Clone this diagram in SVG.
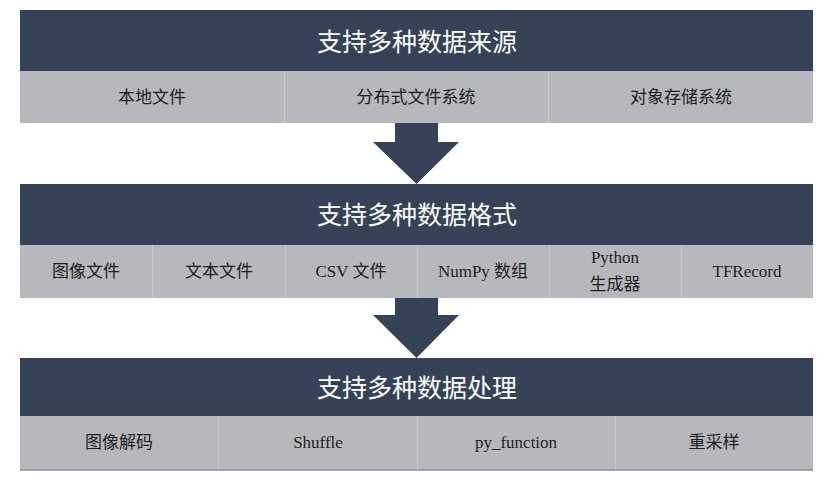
<svg xmlns="http://www.w3.org/2000/svg" width="840" height="480" viewBox="0 0 840 480">
<style>
.hdr{fill:#364257}
.row{fill:#b6b8bd}
.div{stroke:#c8cacd;stroke-width:1}
.title{font-family:"Noto Sans CJK SC","Noto Sans",sans-serif;font-size:25px;fill:#ffffff;text-anchor:middle;dominant-baseline:central}
.lbl{font-family:"Liberation Serif","Noto Sans CJK SC",serif;font-size:17px;fill:#1e1e1e;text-anchor:middle;dominant-baseline:central}
.arrow{fill:#364257}
</style>
<rect width="840" height="480" fill="#ffffff"/>
<g id="block1">
<rect class="hdr" x="20" y="10" width="793" height="61"/>
<text class="title" x="417" y="40">支持多种数据来源</text>
<rect class="row" x="20" y="71" width="793" height="52"/>
<line class="div" x1="284.5" y1="71" x2="284.5" y2="123"/>
<line class="div" x1="548.5" y1="71" x2="548.5" y2="123"/>
<text class="lbl" x="152" y="97">本地文件</text>
<text class="lbl" x="416" y="97">分布式文件系统</text>
<text class="lbl" x="681" y="97">对象存储系统</text>
</g>
<g id="block2">
<rect class="hdr" x="20" y="184" width="793" height="61"/>
<text class="title" x="417" y="213">支持多种数据格式</text>
<rect class="row" x="20" y="245" width="793" height="53"/>
<line class="div" x1="152.5" y1="245" x2="152.5" y2="298"/>
<line class="div" x1="285.5" y1="245" x2="285.5" y2="298"/>
<line class="div" x1="417.5" y1="245" x2="417.5" y2="298"/>
<line class="div" x1="549.5" y1="245" x2="549.5" y2="298"/>
<line class="div" x1="681.5" y1="245" x2="681.5" y2="298"/>
<text class="lbl" x="86" y="271">图像文件</text>
<text class="lbl" x="219" y="271">文本文件</text>
<text class="lbl" x="351" y="271">CSV 文件</text>
<text class="lbl" x="483" y="271">NumPy 数组</text>
<text class="lbl" x="615" y="257">Python</text>
<text class="lbl" x="615" y="284">生成器</text>
<text class="lbl" x="747" y="271">TFRecord</text>
</g>
<g id="block3">
<rect class="hdr" x="20" y="358" width="793" height="58"/>
<text class="title" x="417" y="386">支持多种数据处理</text>
<rect class="row" x="20" y="416" width="793" height="54"/>
<line x1="20" y1="470" x2="813" y2="470" stroke="#8a8c90" stroke-width="1.5"/>
<line class="div" x1="218.5" y1="416" x2="218.5" y2="470"/>
<line class="div" x1="417.5" y1="416" x2="417.5" y2="470"/>
<line class="div" x1="615.5" y1="416" x2="615.5" y2="470"/>
<text class="lbl" x="119" y="442">图像解码</text>
<text class="lbl" x="318" y="442">Shuffle</text>
<text class="lbl" x="516" y="442">py_function</text>
<text class="lbl" x="714" y="442">重采样</text>
</g>
<g id="connectors">
<polygon class="arrow" points="395,123 438,123 438,142 459,142 416.5,184 373,142 395,142"/>
<polygon class="arrow" points="395,298 438,298 438,315 459,315 416.5,358 373,315 395,315"/>
</g>
</svg>
